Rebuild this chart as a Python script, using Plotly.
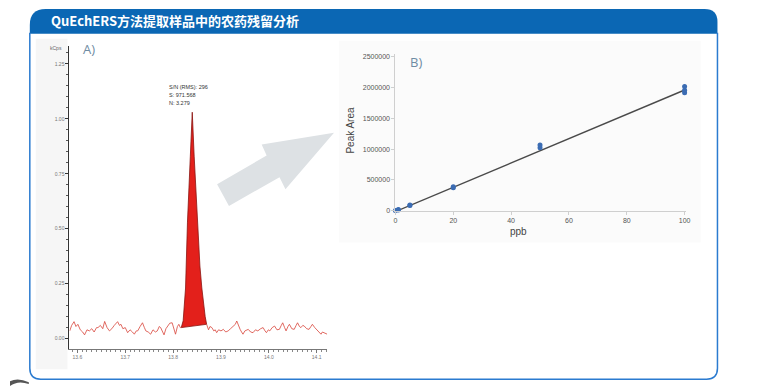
import plotly.graph_objects as go

W, H = 765, 390
OFF = 8  # page body margin shifts the figure by 8px

# ---------------- data ----------------
title_text = "QuEchERS方法提取样品中的农药残留分析"

# Chromatogram (A): retention time (min) and intensity (kCps)
noise_left_t = [13.584, 13.588, 13.593, 13.597, 13.601, 13.606, 13.611, 13.615, 13.620, 13.625,
                13.630, 13.635, 13.640, 13.643, 13.648, 13.653, 13.657, 13.662, 13.667, 13.672,
                13.677, 13.681, 13.684, 13.688, 13.691, 13.695, 13.700, 13.705, 13.710, 13.715,
                13.719, 13.723, 13.726, 13.731, 13.736, 13.740, 13.743, 13.748, 13.753, 13.758,
                13.763, 13.767, 13.771, 13.774, 13.778, 13.781, 13.785, 13.788, 13.793, 13.798,
                13.802, 13.805, 13.809, 13.812, 13.815]
noise_left_v = [0.035, 0.060, 0.077, 0.055, 0.065, 0.040, 0.030, 0.017, 0.040, 0.035,
                0.045, 0.030, 0.050, 0.050, 0.060, 0.045, 0.078, 0.050, 0.035, 0.045,
                0.060, 0.070, 0.077, 0.060, 0.065, 0.045, 0.050, 0.027, 0.040, 0.030,
                0.020, 0.035, 0.035, 0.055, 0.072, 0.050, 0.035, 0.030, 0.020, 0.040,
                0.030, 0.035, 0.055, 0.050, 0.035, 0.017, 0.045, 0.057, 0.070, 0.072,
                0.040, 0.020, 0.055, 0.065, 0.050]

peak_t = [13.817, 13.821, 13.826, 13.830, 13.836, 13.840, 13.844, 13.851, 13.856, 13.860,
          13.862, 13.864, 13.867, 13.870]
peak_v = [0.050, 0.081, 0.230, 0.530, 0.830, 1.030, 0.830, 0.530, 0.330, 0.230,
          0.190, 0.153, 0.100, 0.065]

noise_right_t = [13.874, 13.877, 13.881, 13.885, 13.888, 13.891, 13.895, 13.900, 13.905, 13.910,
                 13.915, 13.920, 13.926, 13.930, 13.933, 13.937, 13.940, 13.943, 13.946, 13.950,
                 13.957, 13.962, 13.967, 13.972, 13.977, 13.983, 13.988, 13.992, 13.995, 13.999,
                 14.002, 14.007, 14.012, 14.017, 14.022, 14.026, 14.029, 14.033, 14.036, 14.040,
                 14.043, 14.048, 14.053, 14.057, 14.060, 14.064, 14.067, 14.071, 14.074, 14.079,
                 14.084, 14.088, 14.091, 14.096, 14.102, 14.105, 14.109, 14.112, 14.115, 14.119,
                 14.122]
noise_right_v = [0.040, 0.055, 0.050, 0.035, 0.040, 0.027, 0.040, 0.035, 0.042, 0.030,
                 0.035, 0.045, 0.057, 0.065, 0.080, 0.055, 0.042, 0.030, 0.020, 0.035,
                 0.042, 0.030, 0.027, 0.040, 0.035, 0.045, 0.050, 0.035, 0.027, 0.040,
                 0.035, 0.050, 0.057, 0.040, 0.042, 0.060, 0.072, 0.050, 0.035, 0.055,
                 0.065, 0.045, 0.042, 0.060, 0.072, 0.055, 0.050, 0.060, 0.057, 0.045,
                 0.042, 0.055, 0.065, 0.050, 0.035, 0.030, 0.020, 0.030, 0.027, 0.022,
                 0.020]

chrom_xticks = [13.6, 13.7, 13.8, 13.9, 14.0, 14.1]
chrom_xticklabels = ["13.6", "13.7", "13.8", "13.9", "14.0", "14.1"]
chrom_yticks = [0.0, 0.25, 0.5, 0.75, 1.0, 1.25]
chrom_yticklabels = ["0.00", "0.25", "0.50", "0.75", "1.00", "1.25"]
peak_info = ["S/N (RMS): 296", "S: 971.568", "N: 3.279"]

# Calibration (B)
conc_ppb = [0, 0, 1, 1, 5, 5, 20, 20, 50, 50, 100, 100, 100]
peak_area = [-8000, 5000, 15000, 22000, 88000, 95000, 375000, 390000,
             1020000, 1065000, 1910000, 1950000, 2010000]
fit_x = [0, 100]
fit_y = [-10000, 1955000]
cal_xticks = [0, 20, 40, 60, 80, 100]
cal_yticks = [0, 500000, 1000000, 1500000, 2000000, 2500000]
cal_yticklabels = ["0", "500000", "1000000", "1500000", "2000000", "2500000"]


# ---------------- helpers (screen pixel -> paper) ----------------
def px(x):
    return (x - OFF) / W


def py(y):
    return 1 - (y - OFF) / H


def path(cmds):
    out = []
    for c in cmds:
        if isinstance(c, str):
            out.append(c)
        else:
            out.append(f"{px(c[0]):.5f},{py(c[1]):.5f}")
    return " ".join(out)


fig = go.Figure()

# peak fill polygon
fig.add_trace(go.Scatter(
    x=peak_t + [peak_t[0]], y=peak_v + [peak_v[0]],
    fill="toself", fillcolor="#e3201b", mode="lines",
    line=dict(color="#8a1410", width=0.8),
    xaxis="x", yaxis="y", hoverinfo="skip", showlegend=False))
# noise trace
fig.add_trace(go.Scatter(
    x=noise_left_t + [peak_t[0]], y=noise_left_v + [peak_v[0]],
    mode="lines", line=dict(color="#d8443a", width=0.8),
    xaxis="x", yaxis="y", showlegend=False))
fig.add_trace(go.Scatter(
    x=[peak_t[-1]] + noise_right_t, y=[peak_v[-1]] + noise_right_v,
    mode="lines", line=dict(color="#d8443a", width=0.8),
    xaxis="x", yaxis="y", showlegend=False))

# calibration fit + points
fig.add_trace(go.Scatter(
    x=fit_x, y=fit_y, mode="lines", line=dict(color="#4a4a4a", width=1.4),
    xaxis="x2", yaxis="y2", showlegend=False))
fig.add_trace(go.Scatter(
    x=conc_ppb, y=peak_area, mode="markers",
    marker=dict(color="#3b6cb3", size=5),
    xaxis="x2", yaxis="y2", showlegend=False, cliponaxis=False))

shapes = []
# faint panel backgrounds
shapes.append(dict(type="rect", xref="paper", yref="paper", layer="below",
                   x0=px(340), x1=px(705), y0=py(244), y1=py(40),
                   fillcolor="#fbfbfb", line=dict(width=0)))
shapes.append(dict(type="rect", xref="paper", yref="paper", layer="below",
                   x0=px(34), x1=px(66), y0=py(372), y1=py(38),
                   fillcolor="#f6f6f6", line=dict(width=0)))
# header bar
shapes.append(dict(type="path", xref="paper", yref="paper",
                   path=path(["M", (28, 33), "L", (28, 24), "Q", (28, 8), (44, 8),
                              "L", (709, 8), "Q", (722, 8), (722, 21), "L", (722, 33), "Z"]),
                   fillcolor="#0b67b4", line=dict(width=0)))
# card border
shapes.append(dict(type="path", xref="paper", yref="paper",
                   path=path(["M", (28, 32), "L", (28, 371), "Q", (28, 382), (39, 382),
                              "L", (711, 382), "Q", (722, 382), (722, 371), "L", (722, 32)]),
                   line=dict(color="#2b7bd0", width=1.5)))
# dark swoosh bottom-left
shapes.append(dict(type="path", xref="paper", yref="paper",
                   path=path(["M", (8, 384), "Q", (16, 380), (27, 385), "L", (27, 387),
                              "Q", (16, 383), (8, 389), "Z"]),
                   fillcolor="#555555", line=dict(width=0)))
# arrow
shapes.append(dict(type="path", xref="paper", yref="paper",
                   path=path(["M", (217, 185), "L", (267, 156), "L", (262, 145), "L", (335, 133),
                              "L", (286, 190), "L", (280, 178), "L", (229, 207), "Z"]),
                   fillcolor="#dde1e4", line=dict(width=0)))

annotations = [
    dict(x=px(47), y=py(20), xref="paper", yref="paper", xanchor="left", yanchor="middle",
         text=f"<b>{title_text}</b>", showarrow=False,
         font=dict(family="Noto Sans CJK SC", size=13, color="white")),
    dict(x=px(80), y=py(48), xref="paper", yref="paper", xanchor="left", yanchor="middle",
         text="A)", showarrow=False,
         font=dict(family="Open Sans", size=13, color="#6f8ca3")),
    dict(x=px(410), y=py(62), xref="paper", yref="paper", xanchor="left", yanchor="middle",
         text="B)", showarrow=False,
         font=dict(family="Open Sans", size=13, color="#6f8ca3")),
    dict(x=px(63), y=py(47), xref="paper", yref="paper", xanchor="right", yanchor="middle",
         text="kCps", showarrow=False,
         font=dict(family="Liberation Sans", size=5, color="#666")),
    dict(x=px(352), y=py(130), xref="paper", yref="paper", xanchor="center", yanchor="middle",
         text="Peak Area", textangle=-90, showarrow=False,
         font=dict(family="Liberation Sans", size=10, color="#444")),
    dict(x=px(521), y=py(233), xref="paper", yref="paper", xanchor="center", yanchor="middle",
         text="ppb", showarrow=False,
         font=dict(family="Liberation Sans", size=10, color="#444")),
]
for i, line in enumerate(peak_info):
    annotations.append(dict(x=px(166), y=py(87 + 8 * i), xref="paper", yref="paper",
                            xanchor="left", yanchor="middle", text=line, showarrow=False,
                            font=dict(family="Liberation Sans", size=5.5, color="#333")))

fig.update_layout(
    width=W, height=H, autosize=False,
    margin=dict(l=0, r=0, t=0, b=0),
    paper_bgcolor="white", plot_bgcolor="rgba(0,0,0,0)",
    showlegend=False,
    shapes=shapes, annotations=annotations,
    xaxis=dict(domain=[px(68), px(328)], range=[13.5834, 14.1217], anchor="y",
               showline=True, linecolor="#777", linewidth=1, showgrid=False, zeroline=False,
               ticks="outside", ticklen=3, tickcolor="#777", tickwidth=1,
               tickvals=chrom_xticks, ticktext=chrom_xticklabels,
               tickfont=dict(family="Liberation Sans", size=5, color="#777"),
               minor=dict(dtick=0.01, ticks="outside", ticklen=2, tickcolor="#888")),
    yaxis=dict(domain=[py(352), py(45)], range=[-0.0495, 1.333], anchor="x",
               showline=True, linecolor="#333", linewidth=1, showgrid=False, zeroline=False,
               ticks="outside", ticklen=3, tickcolor="#333",
               tickvals=chrom_yticks, ticktext=chrom_yticklabels,
               tickfont=dict(family="Liberation Sans", size=5, color="#777"),
               minor=dict(dtick=0.05, ticks="outside", ticklen=2, tickcolor="#555")),
    xaxis2=dict(domain=[px(397), px(690)], range=[0, 100.4], anchor="y2",
                showline=True, linecolor="#cfcfcf", linewidth=1, showgrid=False, zeroline=False,
                ticks="outside", ticklen=3, tickcolor="#cfcfcf",
                tickvals=cal_xticks,
                tickfont=dict(family="Liberation Sans", size=7, color="#555")),
    yaxis2=dict(domain=[py(212), py(53)], range=[0, 2545000], anchor="x2",
                showline=True, linecolor="#cfcfcf", linewidth=1, showgrid=False, zeroline=False,
                ticks="outside", ticklen=3, tickcolor="#cfcfcf",
                tickvals=cal_yticks, ticktext=cal_yticklabels,
                tickfont=dict(family="Liberation Sans", size=7, color="#555")),
)

fig.write_html("out.html")
